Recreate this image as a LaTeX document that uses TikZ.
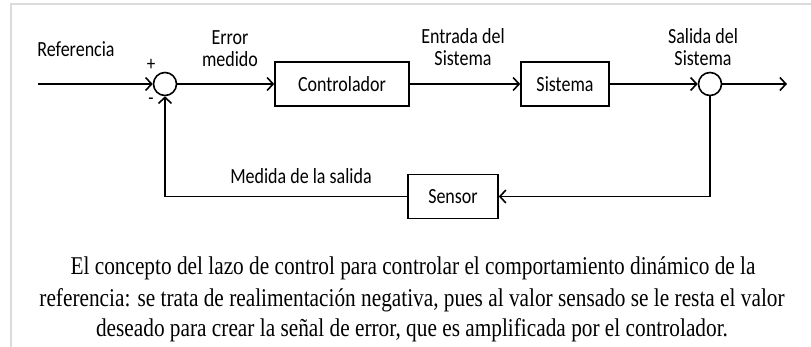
\documentclass[tikz,border=0pt]{standalone}
\usepackage{fontspec}
\usepackage{graphicx}
\setmainfont{Liberation Serif}
\newfontfamily\diagfont{Carlito}
\usetikzlibrary{arrows.meta}
\newcommand\vstretch[1]{\scalebox{1}[1.2]{#1}}
\newcommand\twolines[2]{\vstretch{\begin{tabular}{@{}c@{}}#1\\#2\end{tabular}}}
\begin{document}
\begin{tikzpicture}[x=1pt,y=-1pt,
  lbl/.style={font=\diagfont\fontsize{18}{18.3}\selectfont, inner sep=0pt},
  sgn/.style={font=\diagfont\fontsize{17}{18}\selectfont, inner sep=0pt},
  sumc/.style={circle, draw, line width=1.6pt, minimum size=23pt, inner sep=0pt},
  blk/.style={draw, line width=1.6pt, minimum height=44pt, inner sep=0pt, font=\diagfont\fontsize{18}{21}\selectfont},
  conn/.style={line width=1.6pt, -{Straight Barb[length=6pt,width=13pt,line width=1.6pt]}},
  captxt/.style={font=\fontsize{21.3}{25}\selectfont, anchor=base, inner sep=0pt},
  frm/.style={draw=black!14, line width=1.5pt}
]
\useasboundingbox (0,0) rectangle (811,347);
\draw[frm] (811,4) -- (11,4) -- (11,347);

\coordinate (in) at (38,84);
\node[sumc] (s1) at (165,84) {};
\node[blk, minimum width=134pt] (ctrl) at (342,84) {\vstretch{Controlador}};
\node[blk, minimum width=88pt] (sys) at (565,84) {\vstretch{Sistema}};
\node[sumc] (s2) at (710,84) {};
\coordinate (out) at (787,84);
\node[blk, minimum width=90pt] (sen) at (453,196.5) {\vstretch{Sensor}};

\draw[conn] (in) -- (s1);
\draw[conn] (s1) -- (ctrl);
\draw[conn] (ctrl) -- (sys);
\draw[conn] (sys) -- (s2);
\draw[conn] (s2) -- (out);
\draw[conn] (s2) |- (sen);
\draw[conn] (sen) -| (s1);

\node[lbl] (ref) at (76,49) {\vstretch{Referencia}};
\node[lbl] (err) at (230,51) {\twolines{Error}{medido}};
\node[lbl] (ent) at (463,50) {\twolines{Entrada del}{Sistema}};
\node[lbl] (sal) at (703,50) {\twolines{Salida del}{Sistema}};
\node[lbl] (med) at (301,176) {\vstretch{Medida de la salida}};
\node[sgn] (plus) at (151,65) {\vstretch{+}};
\node[sgn] (minus) at (151,101) {\vstretch{-}};

\node[captxt] (c1) at (413,275) {\vstretch{El concepto del lazo de control para controlar el comportamiento dinámico de la}};
\node[captxt] (c2) at (412,306) {\vstretch{referencia: se trata de realimentación negativa, pues al valor sensado se le resta el valor}};
\node[captxt] (c3) at (412,336) {\vstretch{deseado para crear la señal de error, que es amplificada por el controlador.}};
\end{tikzpicture}
\end{document}
